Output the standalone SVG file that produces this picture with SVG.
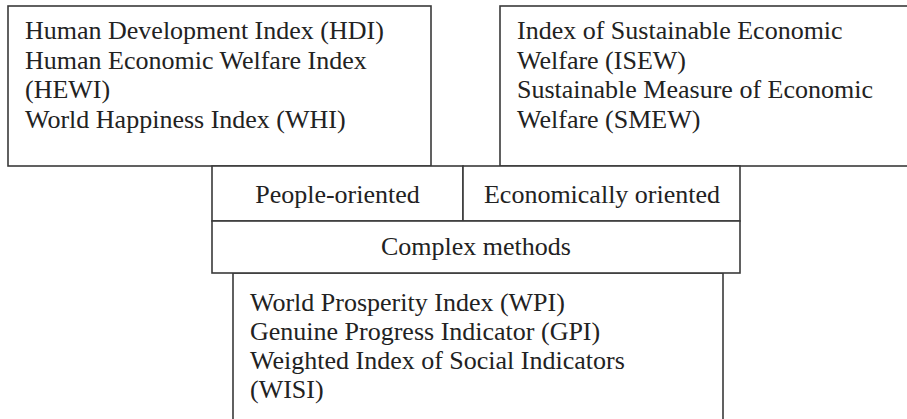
<svg xmlns="http://www.w3.org/2000/svg" width="907" height="419" viewBox="0 0 907 419">
<style>
.b{fill:#fff;stroke:#3a3a3a;stroke-width:1.6}
.t{font-family:"Liberation Serif","Times New Roman",serif;font-size:26px;fill:#222}
.c{text-anchor:middle}
</style>
<rect width="907" height="419" fill="#fff"/>
<g id="box-people">
<rect class="b" x="8" y="6" width="423" height="160"/>
<text class="t" x="25" y="39">Human Development Index (HDI)</text>
<text class="t" x="25" y="68.5">Human Economic Welfare Index</text>
<text class="t" x="25" y="98">(HEWI)</text>
<text class="t" x="25" y="127.5">World Happiness Index (WHI)</text>
</g>
<g id="box-economic">
<rect class="b" x="500" y="6" width="420" height="160"/>
<text class="t" x="517" y="39">Index of Sustainable Economic</text>
<text class="t" x="517" y="68.5">Welfare (ISEW)</text>
<text class="t" x="517" y="98">Sustainable Measure of Economic</text>
<text class="t" x="517" y="127.5">Welfare (SMEW)</text>
</g>
<g id="box-complex-list">
<rect class="b" x="233" y="273" width="490" height="160"/>
<text class="t" x="250" y="311">World Prosperity Index (WPI)</text>
<text class="t" x="250" y="340">Genuine Progress Indicator (GPI)</text>
<text class="t" x="250" y="369">Weighted Index of Social Indicators</text>
<text class="t" x="250" y="397.5">(WISI)</text>
</g>
<g id="cell-people-oriented">
<rect class="b" x="212" y="166" width="251" height="55"/>
<text class="t c" x="337.5" y="203">People-oriented</text>
</g>
<g id="cell-economically-oriented">
<rect class="b" x="463" y="166" width="277" height="55"/>
<text class="t c" x="602" y="203">Economically oriented</text>
</g>
<g id="cell-complex-methods">
<rect class="b" x="212" y="221" width="528" height="52"/>
<text class="t c" x="476" y="255">Complex methods</text>
</g>
<g id="connectors"></g>
</svg>
